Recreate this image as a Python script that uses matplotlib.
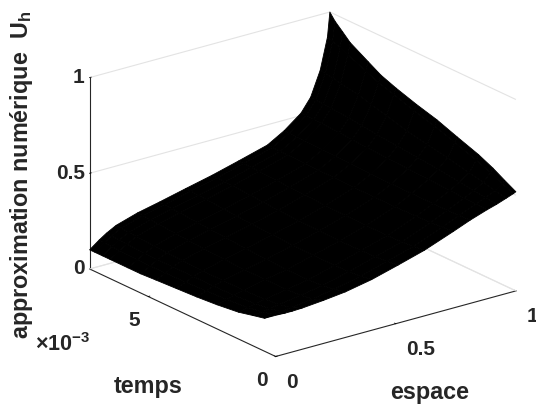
import numpy as np
import matplotlib
matplotlib.use("Agg")
import matplotlib.pyplot as plt

plt.rcParams['font.family'] = ['Liberation Sans', 'DejaVu Sans']
plt.rcParams['mathtext.fontset'] = 'custom'
plt.rcParams['mathtext.rm'] = 'Liberation Sans:bold'
plt.rcParams['mathtext.it'] = 'Liberation Sans:bold'

# values
espace = [0, 0.04, 0.07, 0.11, 0.2, 0.29, 0.4, 0.51, 0.62, 0.74, 0.81, 0.88, 0.92, 0.96, 0.99, 1]
temps = [0, 0.00044, 0.0009, 0.00146, 0.0023, 0.0031, 0.0039, 0.0047, 0.0053, 0.0058,
         0.0065, 0.0068, 0.0071, 0.0073]
u_h = [
    [.215, .213, .213, .215, .225, .238, .265, .303, .343, .400, .435, .465, .480, .498, .512, .518],
    [.172, .178, .183, .190, .205, .225, .255, .295, .335, .395, .432, .468, .488, .510, .535, .550],
    [.158, .163, .170, .178, .195, .215, .250, .290, .330, .390, .430, .470, .495, .525, .565, .585],
    [.140, .150, .160, .170, .190, .210, .248, .288, .328, .388, .430, .475, .505, .540, .595, .620],
    [.126, .140, .152, .165, .190, .210, .248, .285, .328, .385, .430, .480, .520, .565, .635, .660],
    [.117, .135, .150, .165, .190, .215, .250, .288, .330, .385, .430, .485, .530, .585, .670, .700],
    [.111, .130, .150, .165, .195, .220, .255, .290, .332, .385, .432, .490, .540, .605, .700, .730],
    [.105, .128, .150, .170, .200, .228, .260, .295, .338, .388, .435, .495, .550, .635, .735, .765],
    [.100, .127, .150, .172, .205, .232, .265, .300, .340, .388, .437, .500, .560, .655, .760, .796],
    [.100, .128, .152, .176, .210, .238, .270, .305, .344, .390, .440, .505, .568, .675, .790, .835],
    [.100, .132, .156, .182, .217, .244, .277, .310, .348, .392, .443, .510, .575, .690, .830, .890],
    [.100, .134, .159, .185, .220, .247, .280, .312, .350, .392, .444, .512, .578, .700, .850, .928],
    [.100, .136, .161, .188, .223, .249, .282, .314, .351, .394, .445, .513, .580, .705, .862, .965],
    [.100, .138, .163, .190, .225, .250, .283, .315, .352, .394, .445, .513, .582, .710, .872, 1.00],
]
x_ticks = [0, 0.5, 1]
t_ticks = [0, 0.005]
z_ticks = [0, 0.5, 1]

W, H = 536, 405
DARK = '#262626'
GRID = '#e3e3e3'

fig = plt.figure(figsize=(W / 100, H / 100), dpi=100)
size = 463
ax = fig.add_axes([65 / W, -17 / H, size / W, size / H], projection='3d',
                  proj_type='ortho', computed_zorder=False)
ax.patch.set_alpha(0)
ax.view_init(elev=21, azim=-127.3)
ax.set_box_aspect((302, 307, 205))

X, T = np.meshgrid(espace, temps)
ax.plot_surface(X, T, np.array(u_h), color='black', shade=False, edgecolor='black',
                linewidth=0.6, rstride=1, cstride=1, antialiased=True, zorder=5)

# back edges of the floor
ax.plot([1, 1], [0, temps[-1]], [0, 0], color=GRID, lw=0.8, zorder=1)
ax.plot([0, 1], [temps[-1], temps[-1]], [0, 0], color=GRID, lw=0.8, zorder=1)

ax.set_xlim(0, 1, view_margin=0)
ax.set_ylim(0, temps[-1], view_margin=0)
ax.set_zlim(0, 1, view_margin=0)
ax.set_xticks(x_ticks)
ax.set_yticks(t_ticks)
ax.set_zticks(z_ticks)
ax.set_xticklabels(['0', '0.5', '1'], ha='left', va='top')
ax.set_yticklabels(['0', '5'], va='top')
ax.set_zticklabels(['0', '0.5', '1'], ha='right', va='center')

for axis in (ax.xaxis, ax.yaxis, ax.zaxis):
    axis.set_pane_color((1, 1, 1, 0))
    axis.pane.set_edgecolor((1, 1, 1, 0))
    axis.line.set_color(DARK)
    axis.line.set_linewidth(0.8)
    axis._axinfo['tick']['inward_factor'] = 0.0
    axis._axinfo['tick']['outward_factor'] = 0.08
    axis._axinfo['tick']['linewidth'] = {True: 0.6, False: 0.4}
    axis._axinfo['tick']['color'] = DARK
    for lab in axis.get_ticklabels():
        lab.set_fontweight('bold')
        lab.set_fontsize(15)
        lab.set_color(DARK)
ax.xaxis._axinfo['grid']['color'] = (1, 1, 1, 0)
ax.yaxis._axinfo['grid']['color'] = (1, 1, 1, 0)
ax.zaxis._axinfo['grid']['color'] = GRID
ax.zaxis._axinfo['grid']['linewidth'] = 0.8
ax.tick_params(axis='x', pad=2)
ax.tick_params(axis='y', pad=2)
ax.tick_params(axis='z', pad=-6)

def put(x, y, s, **kw):
    fig.text(x / W, 1 - y / H, s, ha='center', va='center', fontweight='bold',
             color=DARK, **kw)

put(430, 392, 'espace', fontsize=16.8)
put(148, 387, 'temps', fontsize=16.8)
put(22, 175, r'approximation numérique  U$_{\mathregular{h}}$', fontsize=16.8, rotation=90)
put(63, 345, r'$\times$10$^{-3}$', fontsize=15.5)

fig.savefig('out.png', dpi=100)
